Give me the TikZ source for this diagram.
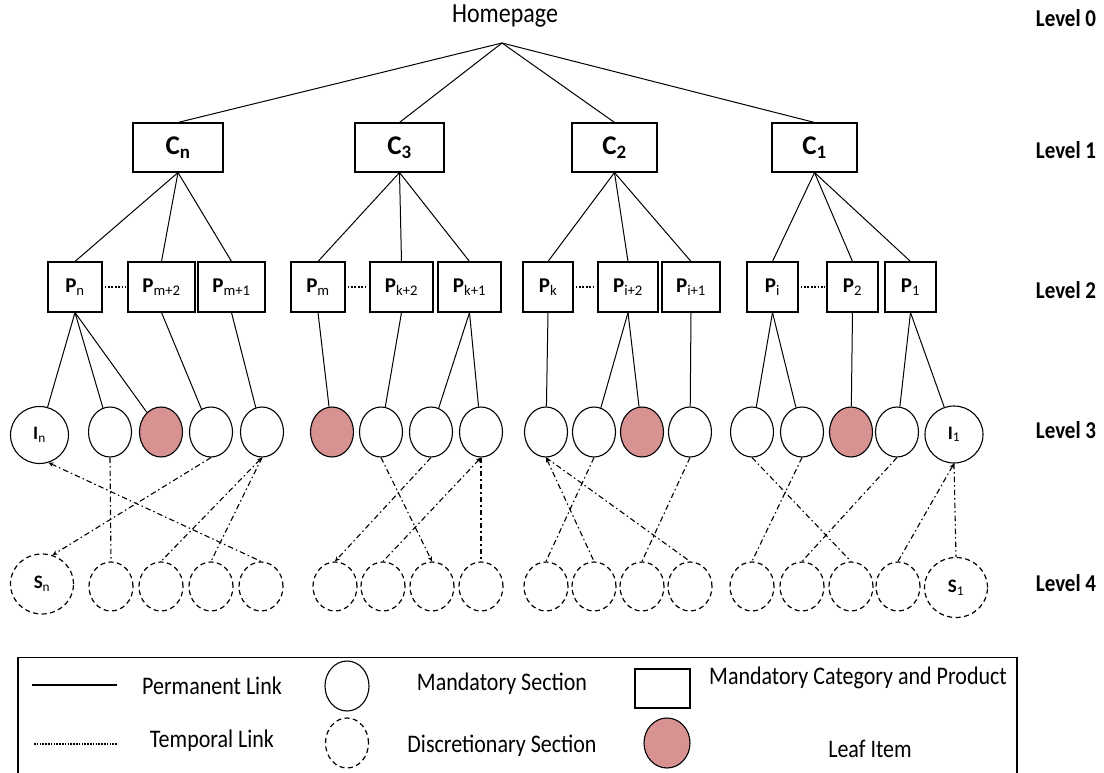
\documentclass[tikz,border=0pt]{standalone}
\usepackage{fontspec}
\usepackage{graphicx}
\setmainfont{Carlito}
\usetikzlibrary{shapes.geometric,arrows.meta}
\definecolor{leafpink}{RGB}{217,146,146}
\newcommand{\vst}[1]{\scalebox{1}[1.15]{#1}}
\begin{document}
\begin{tikzpicture}[x=1pt,y=-1pt,
  perm/.style={line width=1pt},
  temp/.style={line width=1.1pt, dash pattern=on 5.5pt off 3pt on 1.5pt off 3pt},
  tipS/.style={{Stealth[length=5pt,width=4.5pt]}-},
  tipE/.style={-{Stealth[length=5pt,width=4.5pt]}},
  cbox/.style={draw, line width=1.1pt, minimum height=49pt, inner sep=0pt, font=\fontsize{27}{30}\selectfont\bfseries},
  pbox/.style={draw, line width=1.1pt, minimum height=50pt, inner sep=0pt, font=\fontsize{21}{24}\selectfont\bfseries},
  msec/.style={draw, ellipse, line width=1.1pt, minimum width=43pt, minimum height=50pt, inner sep=0pt, fill=white},
  bigm/.style={minimum width=58pt, minimum height=57pt, font=\fontsize{19}{22}\selectfont\bfseries},
  leaf/.style={msec, fill=leafpink},
  dsec/.style={draw, ellipse, dash pattern=on 5pt off 3.5pt, line width=1.2pt, minimum width=44pt, minimum height=49pt, inner sep=0pt},
  bigd/.style={minimum width=63pt, minimum height=60pt, font=\fontsize{19}{22}\selectfont\bfseries},
  lvl/.style={font=\fontsize{21}{24}\selectfont\bfseries},
  lgd/.style={font=\fontsize{22}{26}\selectfont},
  pdots/.style={line width=1.8pt, dash pattern=on 1.8pt off 1.6pt, shorten <=2pt, shorten >=2pt}
]
\useasboundingbox (0,0) rectangle (1104,773);

% Level 0
\node[font=\fontsize{24}{28}\selectfont] (home) at (505,16) {\vst{Homepage}};
\coordinate (apex) at (502,43);

% Level 1
\node[cbox, minimum width=90pt] (Cn) at (178,147.5) {C\textsubscript{n}};
\node[cbox, minimum width=89pt] (C3) at (399.5,147.5) {C\textsubscript{3}};
\node[cbox, minimum width=85pt] (C2) at (614.5,147.5) {C\textsubscript{2}};
\node[cbox, minimum width=85pt] (C1) at (814.5,147.5) {C\textsubscript{1}};

\foreach \c in {Cn,C3,C2,C1} \draw[perm] (apex) -- (\c.north);

% Level 2
\node[pbox, minimum width=54pt] (Pn)  at (75,287)    {P\textsubscript{\mdseries n}};
\node[pbox, minimum width=67pt] (Pm2) at (161.5,287) {P\textsubscript{\mdseries m+2}};
\node[pbox, minimum width=67pt] (Pm1) at (231.5,287) {P\textsubscript{\mdseries m+1}};
\node[pbox, minimum width=54pt] (Pm)  at (318,287)   {P\textsubscript{\mdseries m}};
\node[pbox, minimum width=63pt] (Pk2) at (401.5,287) {P\textsubscript{\mdseries k+2}};
\node[pbox, minimum width=63pt] (Pk1) at (469.5,287) {P\textsubscript{\mdseries k+1}};
\node[pbox, minimum width=50pt] (Pk)  at (548,287)   {P\textsubscript{\mdseries k}};
\node[pbox, minimum width=60pt] (Pi2) at (628,287)   {P\textsubscript{\mdseries i+2}};
\node[pbox, minimum width=58pt] (Pi1) at (691,287)   {P\textsubscript{\mdseries i+1}};
\node[pbox, minimum width=51pt] (Pi)  at (772.5,287) {P\textsubscript{\mdseries i}};
\node[pbox, minimum width=51pt] (P2)  at (852.5,287) {P\textsubscript{\mdseries 2}};
\node[pbox, minimum width=51pt] (P1)  at (910.5,287) {P\textsubscript{\mdseries 1}};

\draw[pdots] (Pn) -- (Pm2);
\draw[pdots] (Pm) -- (Pk2);
\draw[pdots] (Pk) -- (Pi2);
\draw[pdots] (Pi) -- (P2);

\foreach \c/\p in {Cn/Pn,Cn/Pm2,Cn/Pm1,C3/Pm,C3/Pk2,C3/Pk1,C2/Pk,C2/Pi2,C2/Pi1,C1/Pi,C1/P2,C1/P1}
  \draw[perm] (\c.south) -- (\p.north);

% Level 3
\node[msec, bigm] (a1) at (39.5,435) {I\textsubscript{\mdseries n}};
\node[msec] (a2) at (110,432) {};
\node[leaf] (a3) at (161,432) {};
\node[msec] (a4) at (211,432) {};
\node[msec] (a5) at (262,432) {};
\node[leaf] (a6) at (332,432) {};
\node[msec] (a7) at (381,432) {};
\node[msec] (a8) at (431,432) {};
\node[msec] (a9) at (481,432) {};
\node[msec] (a10) at (546,432) {};
\node[msec] (a11) at (594,432) {};
\node[leaf] (a12) at (642,432) {};
\node[msec] (a13) at (690,432) {};
\node[msec] (a14) at (752,432) {};
\node[msec] (a15) at (802,432) {};
\node[leaf] (a16) at (851,432) {};
\node[msec] (a17) at (897,432) {};
\node[msec, bigm] (a18) at (954,434.5) {I\textsubscript{\mdseries 1}};

\foreach \p/\a in {Pn/a1,Pn/a2,Pn/a3,Pm2/a4,Pm1/a5,Pm/a6,Pk2/a7,Pk1/a8,Pk1/a9,Pk/a10,Pi2/a11,Pi2/a12,Pi1/a13,Pi/a14,Pi/a15,P2/a16,P1/a17,P1/a18}
  \draw[perm] (\p.south) -- (\a);

% Level 4
\node[dsec, bigd] (b1) at (42,584) {S\textsubscript{\mdseries n}};
\node[dsec] (b2) at (111,586.5) {};
\node[dsec] (b3) at (161,586.5) {};
\node[dsec] (b4) at (211,586.5) {};
\node[dsec] (b5) at (261,586.5) {};
\node[dsec] (b6) at (335,586.5) {};
\node[dsec] (b7) at (383,586.5) {};
\node[dsec] (b8) at (432,586.5) {};
\node[dsec] (b9) at (481,586.5) {};
\node[dsec] (b10) at (546,586.5) {};
\node[dsec] (b11) at (594,586.5) {};
\node[dsec] (b12) at (642,586.5) {};
\node[dsec] (b13) at (690,586.5) {};
\node[dsec] (b14) at (752,586.5) {};
\node[dsec] (b15) at (802,586.5) {};
\node[dsec] (b16) at (851,586.5) {};
\node[dsec] (b17) at (898,586.5) {};
\node[dsec, bigd] (b18) at (956,587.5) {S\textsubscript{\mdseries 1}};

% Temporal links between level 3 and level 4
\draw[temp, tipS] (a1.-72) -- (b5.north);
\draw[temp] (a2.south) -- (b2.north);
\draw[temp, tipE] (a4.south) -- (b1.70);
\draw[temp, tipS] (a5.south) -- (b3.north);
\draw[temp] (a5.south) -- (b4.north);
\draw[temp, tipE] (a7.south) -- (b8.north);
\draw[temp, tipE] (a8.south) -- (b6.north);
\draw[temp, tipS] (a9.south) -- (b7.north);
\draw[temp] (a9.south) -- (b9.north);
\draw[temp, tipS] (a10.south) -- (b11.north);
\draw[temp] (a10.south) -- (b13.north);
\draw[temp] (a11.south) -- (b10.north);
\draw[temp] (a13.south) -- (b12.north);
\draw[temp] (a14.south) -- (b16.north);
\draw[temp] (a15.south) -- (b14.north);
\draw[temp] (a17.south) -- (b15.north);
\draw[temp, tipS] (a18.south) -- (b17.north);
\draw[temp] (a18.south) -- (b18.north);

% Level labels
\node[lvl] (l0) at (1066,18) {\vst{Level 0}};
\node[lvl] (l1) at (1066,150) {\vst{Level 1}};
\node[lvl] (l2) at (1066,290) {\vst{Level 2}};
\node[lvl] (l3) at (1066,430) {\vst{Level 3}};
\node[lvl] (l4) at (1066,583) {\vst{Level 4}};

% Legend
\draw[line width=1.3pt] (18,773) -- (18,657.5) -- (1017,657.5) -- (1017,773);
\coordinate (pl1) at (32,685);
\coordinate (pl2) at (117,685);
\draw[line width=2.2pt] (pl1) -- (pl2);
\coordinate (tl1) at (34,744);
\coordinate (tl2) at (117,744);
\draw[line width=2pt, dash pattern=on 1.5pt off 1.3pt] (tl1) -- (tl2);
\node[lgd] (tPL) at (212,686) {\vst{Permanent Link}};
\node[lgd] (tTL) at (212,741) {\vst{Temporal Link}};
\node[msec, minimum width=44pt, minimum height=50pt] (lgM) at (347,686) {};
\node[dsec, minimum width=43pt, minimum height=50pt] (lgD) at (347,743) {};
\node[lgd] (tMS) at (502,684) {\vst{Mandatory Section}};
\node[lgd] (tDS) at (502,746) {\vst{Discretionary Section}};
\node[draw, line width=1.1pt, minimum width=55pt, minimum height=39pt, inner sep=0pt] (lgR) at (662.5,688.5) {};
\node[leaf, minimum width=46pt, minimum height=50pt] (lgL) at (667,743) {};
\node[lgd] (tMC) at (858,678) {\vst{Mandatory Category and Product}};
\node[lgd] (tLI) at (870,749) {\vst{Leaf Item}};
\end{tikzpicture}
\end{document}
